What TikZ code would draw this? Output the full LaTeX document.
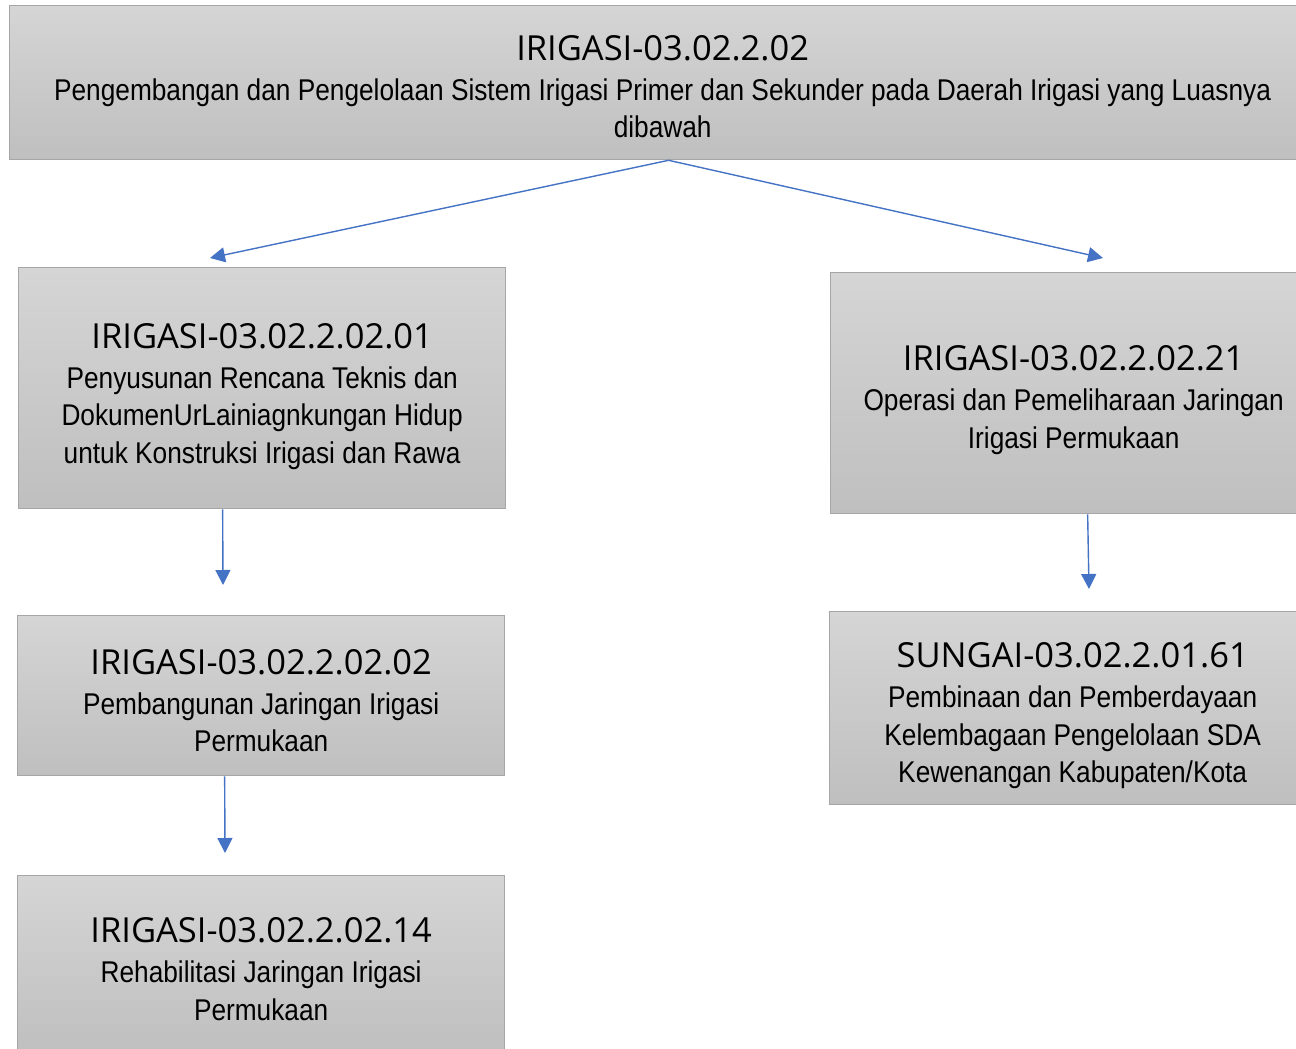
\documentclass[tikz,border=0pt]{standalone}
\usepackage{fontspec}
\setmainfont{Liberation Sans}
\newfontfamily\titlefam{Open Sans}
\newfontfamily\bodyfam[FakeStretch=0.875]{Liberation Sans}
\usetikzlibrary{arrows.meta,calc}
\definecolor{boxtop}{HTML}{D5D5D5}
\definecolor{boxbot}{HTML}{BFBFBF}
\definecolor{boxline}{HTML}{A6A6A6}
\definecolor{arrowblue}{HTML}{4472C4}
\newcommand{\tf}{\titlefam\fontsize{34.5}{40}\selectfont}
\newcommand{\tstrut}[1]{\rule{0pt}{#1}}
\tikzset{
  box/.style={draw=boxline, line width=1.3pt, top color=boxtop, bottom color=boxbot,
    anchor=north west, align=center, inner sep=0pt,
    font=\bodyfam\fontsize{30}{37.5}\selectfont},
  conn/.style={draw=arrowblue, line width=1.4pt, -{Triangle[length=15pt,width=15pt]}}
}
\begin{document}
\begin{tikzpicture}[x=1pt,y=-1pt]
\useasboundingbox (0,0) rectangle (1296,1049);
\clip (0,0) rectangle (1296,1049);
\node[box, minimum width=1306pt, minimum height=154pt] (top) at (9,5)
  {{\tf\tstrut{33pt}IRIGASI-03.02.2.02}\\[2.5pt]Pengembangan dan Pengelolaan Sistem Irigasi Primer dan Sekunder pada Daerah Irigasi yang Luasnya\\dibawah};
\node[box, minimum width=487pt, minimum height=241pt] (A) at (18,267)
  {{\tf\tstrut{41pt}IRIGASI-03.02.2.02.01}\\[2.5pt]Penyusunan Rencana Teknis dan\\DokumenUrLainiagnkungan Hidup\\untuk Konstruksi Irigasi dan Rawa};
\node[box, minimum width=487pt, minimum height=160pt] (B) at (17,615)
  {{\tf\tstrut{35pt}IRIGASI-03.02.2.02.02}\\[2.5pt]Pembangunan Jaringan Irigasi\\Permukaan};
\node[box, minimum width=487pt, minimum height=177pt] (C) at (17,875)
  {{\tf\tstrut{35pt}IRIGASI-03.02.2.02.14}\\[2.5pt]Rehabilitasi Jaringan Irigasi\\Permukaan};
\node[box, minimum width=486pt, minimum height=241pt] (R1) at (830,272)
  {{\tf\tstrut{39pt}IRIGASI-03.02.2.02.21}\\[2.5pt]Operasi dan Pemeliharaan Jaringan\\Irigasi Permukaan};
\node[box, minimum width=486pt, minimum height=193pt] (R2) at (829,611)
  {{\tf\tstrut{40pt}SUNGAI-03.02.2.01.61}\\[2.5pt]Pembinaan dan Pemberdayaan\\Kelembagaan Pengelolaan SDA\\Kewenangan Kabupaten/Kota};
\coordinate (tA) at (210,258);
\coordinate (tR) at (1103,258);
\coordinate (tB) at (223,585);
\coordinate (tC) at (225,853);
\coordinate (tR2) at (1089,589);
\draw[conn] ([xshift=6pt]top.south) -- (tA);
\draw[conn] ([xshift=6pt]top.south) -- (tR);
\draw[conn] ([xshift=-39.5pt]A.south) -- (tB);
\draw[conn] ([xshift=-36.5pt]B.south) -- (tC);
\draw[conn] ([xshift=14pt]R1.south) -- (tR2);
\end{tikzpicture}
\end{document}
